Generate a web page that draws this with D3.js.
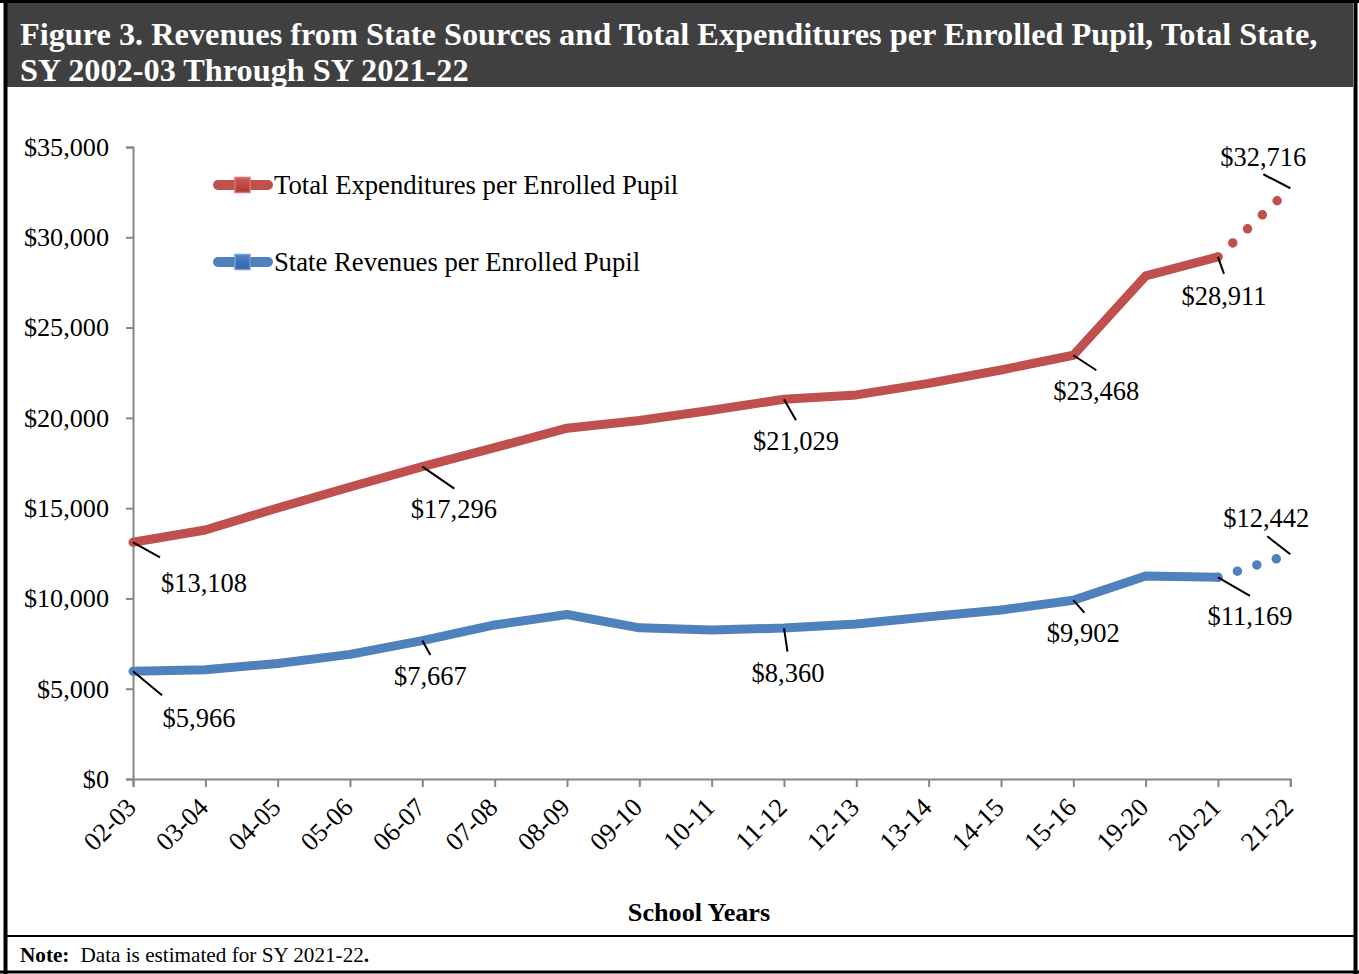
<!DOCTYPE html>
<html>
<head>
<meta charset="utf-8">
<script src="https://cdn.jsdelivr.net/npm/d3@7"></script>
<style>
  html, body { margin: 0; padding: 0; background: #fff; }
  svg { display: block; font-family: "Liberation Serif", "Times New Roman", serif; }
</style>
</head>
<body>
<svg id="chart" width="1359" height="974"></svg>
<script>
// School years on the category axis
const categories = ["02-03", "03-04", "04-05", "05-06", "06-07", "07-08", "08-09", "09-10",
  "10-11", "11-12", "12-13", "13-14", "14-15", "15-16", "19-20", "20-21", "21-22"];

// Total expenditures per enrolled pupil (last year is an estimate)
const expenditures = [13108, 13790, 15010, 16170, 17296, 18350, 19430, 19850,
  20420, 21029, 21270, 21910, 22650, 23468, 27860, 28911, 32716];

// State revenues per enrolled pupil (last year is an estimate)
const stateRevenues = [5966, 6050, 6400, 6900, 7667, 8530, 9110, 8370,
  8250, 8360, 8580, 8990, 9360, 9902, 11240, 11169, 12442];

const yTicks = [0, 5000, 10000, 15000, 20000, 25000, 30000, 35000];

const seriesNames = ["Total Expenditures per Enrolled Pupil", "State Revenues per Enrolled Pupil"];

// Points that carry a value label
const labelledIdx = [0, 4, 9, 13, 15, 16];

const titleLines = ["Figure 3. Revenues from State Sources and Total Expenditures per Enrolled Pupil, Total State,",
  "SY 2002-03 Through SY 2021-22"];
const xTitle = "School Years";
const noteLabel = "Note:";
const noteText = "Data is estimated for SY 2021-22";

// ---- layout ----
const W = 1359, H = 974;
const plot = { left: 133, right: 1290.3, top: 147, bottom: 779 };
const colors = { exp: "#C0504D", rev: "#4F81BD", axis: "#868686" };

// label placement for each labelled point: text anchor offset and leader-line ends (relative to the point)
const expLabelPos = [
  { tx: 71, ty: 50, l0: [0, 0], l1: [27, 15] },
  { tx: 31.5, ty: 51, l0: [0, 0], l1: [32, 22] },
  { tx: 12, ty: 51, l0: [0, 0], l1: [12, 21] },
  { tx: 23, ty: 45, l0: [0, 0], l1: [23, 15] },
  { tx: 6, ty: 48, l0: [0, 0], l1: [6, 17] },
  { tx: -27, ty: -22, l0: [-27, -14], l1: [0, 0] }
];
const revLabelPos = [
  { tx: 66, ty: 56, l0: [0, 0], l1: [29, 24] },
  { tx: 8, ty: 44, l0: [0, 0], l1: [8, 14.5] },
  { tx: 4, ty: 54, l0: [0, 0], l1: [3.5, 23.5] },
  { tx: 10, ty: 42, l0: [0, 0], l1: [11, 12.5] },
  { tx: 32, ty: 48, l0: [0, 0], l1: [32, 18.5] },
  { tx: -24, ty: -27, l0: [-23, -18], l1: [0, 0] }
];

const svg = d3.select("#chart");

// ---- frame and title bar ----
svg.append("rect").attr("x", 0).attr("y", 0).attr("width", W).attr("height", H).attr("fill", "#fff");
svg.append("rect").attr("x", 7).attr("y", 3).attr("width", 1346).attr("height", 84).attr("fill", "#404040");
const frame = svg.append("g").attr("stroke", "#000");
frame.append("line").attr("x1", 5.5).attr("x2", 5.5).attr("y1", 0).attr("y2", H).attr("stroke-width", 4);
frame.append("line").attr("x1", 1355.5).attr("x2", 1355.5).attr("y1", 0).attr("y2", H).attr("stroke-width", 4);
frame.append("line").attr("x1", 0).attr("x2", W).attr("y1", 1.5).attr("y2", 1.5).attr("stroke-width", 3);
frame.append("line").attr("x1", 0).attr("x2", W).attr("y1", 972).attr("y2", 972).attr("stroke-width", 3);
frame.append("line").attr("x1", 5).attr("x2", 1356).attr("y1", 936).attr("y2", 936).attr("stroke-width", 2);

svg.append("g").selectAll("text").data(titleLines).join("text")
  .attr("x", 20).attr("y", (d, i) => 45 + i * 36)
  .attr("fill", "#fff").attr("font-weight", "bold").attr("font-size", 32.3)
  .text(d => d);

// ---- scales ----
const x = d3.scalePoint().domain(categories).range([plot.left, plot.right]);
const y = d3.scaleLinear().domain([0, 35000]).range([plot.bottom, plot.top]);

// ---- axes ----
const yAxis = svg.append("g").attr("transform", `translate(${plot.left},0)`)
  .call(d3.axisLeft(y).tickValues(yTicks).tickSize(7).tickPadding(17)
    .tickFormat(d => "$" + d3.format(",")(d)));
yAxis.selectAll("path, line").attr("stroke", colors.axis).attr("stroke-width", 2);
yAxis.selectAll("text").attr("font-size", 26.2).attr("fill", "#000")
  .attr("font-family", "Liberation Serif, Times New Roman, serif");

const xAxis = svg.append("g").attr("transform", `translate(0,${plot.bottom})`)
  .call(d3.axisBottom(x).tickSize(8).tickSizeOuter(8));
xAxis.selectAll("path, line").attr("stroke", colors.axis).attr("stroke-width", 2);
xAxis.selectAll("text")
  .attr("font-size", 26.2).attr("fill", "#000")
  .attr("font-family", "Liberation Serif, Times New Roman, serif")
  .attr("text-anchor", "end")
  .attr("dy", 0).attr("y", 0)
  .attr("transform", "translate(4,30) rotate(-45)");

svg.append("text").attr("x", 699).attr("y", 921).attr("text-anchor", "middle")
  .attr("font-weight", "bold").attr("font-size", 26.2).text(xTitle);

// ---- series ----
const line = d3.line().x(d => x(d.cat)).y(d => y(d.v));

function drawSeries(values, color, labelPos) {
  const pts = values.map((v, i) => ({ cat: categories[i], v }));
  const actual = pts.slice(0, pts.length - 1);
  const estimate = pts.slice(pts.length - 2);
  const g = svg.append("g");
  g.append("path").datum(actual).attr("d", line)
    .attr("fill", "none").attr("stroke", color).attr("stroke-width", 9)
    .attr("stroke-linejoin", "round").attr("stroke-linecap", "round");
  g.append("path").datum(estimate).attr("d", line)
    .attr("fill", "none").attr("stroke", color).attr("stroke-width", 9.5)
    .attr("stroke-linecap", "round").attr("stroke-dasharray", "0 20.4");

  labelledIdx.forEach((idx, k) => {
    const px = x(categories[idx]), py = y(values[idx]);
    const p = labelPos[k];
    g.append("line")
      .attr("x1", px + p.l0[0]).attr("y1", py + p.l0[1])
      .attr("x2", px + p.l1[0]).attr("y2", py + p.l1[1])
      .attr("stroke", "#000").attr("stroke-width", 2);
    g.append("text").attr("x", px + p.tx).attr("y", py + p.ty)
      .attr("text-anchor", "middle").attr("font-size", 26.5).attr("fill", "#000")
      .text("$" + d3.format(",")(values[idx]));
  });
}

drawSeries(expenditures, colors.exp, expLabelPos);
drawSeries(stateRevenues, colors.rev, revLabelPos);

// ---- legend ----
const defs = svg.append("defs");
const grads = [["gExp", "#cf5a56", "#a93834"], ["gRev", "#4f86c8", "#2f64a6"]];
grads.forEach(([id, c0, c1]) => {
  const lg = defs.append("linearGradient").attr("id", id).attr("x1", 0).attr("y1", 0).attr("x2", 0).attr("y2", 1);
  lg.append("stop").attr("offset", "0%").attr("stop-color", c0);
  lg.append("stop").attr("offset", "100%").attr("stop-color", c1);
});
const legendItems = [
  { name: seriesNames[0], color: colors.exp, grad: "gExp", edge: "#d77572", cy: 185 },
  { name: seriesNames[1], color: colors.rev, grad: "gRev", edge: "#6f9fdc", cy: 262 }
];
const lg = svg.append("g");
legendItems.forEach(it => {
  lg.append("line").attr("x1", 218).attr("x2", 268).attr("y1", it.cy).attr("y2", it.cy)
    .attr("stroke", it.color).attr("stroke-width", 10).attr("stroke-linecap", "round");
  lg.append("rect").attr("x", 235).attr("y", it.cy - 7.5).attr("width", 15).attr("height", 15)
    .attr("fill", `url(#${it.grad})`).attr("stroke", it.edge).attr("stroke-width", 1.5);
  lg.append("text").attr("x", 274).attr("y", it.cy + 8.5).attr("font-size", 26.7).attr("fill", "#000")
    .text(it.name);
});

// ---- note ----
const note = svg.append("text").attr("x", 20).attr("y", 962).attr("font-size", 21.2).attr("fill", "#000");
note.append("tspan").attr("font-weight", "bold").text(noteLabel);
note.append("tspan").attr("dx", 11).text(noteText);
note.append("tspan").attr("font-weight", "bold").text(".");
</script>
</body>
</html>
